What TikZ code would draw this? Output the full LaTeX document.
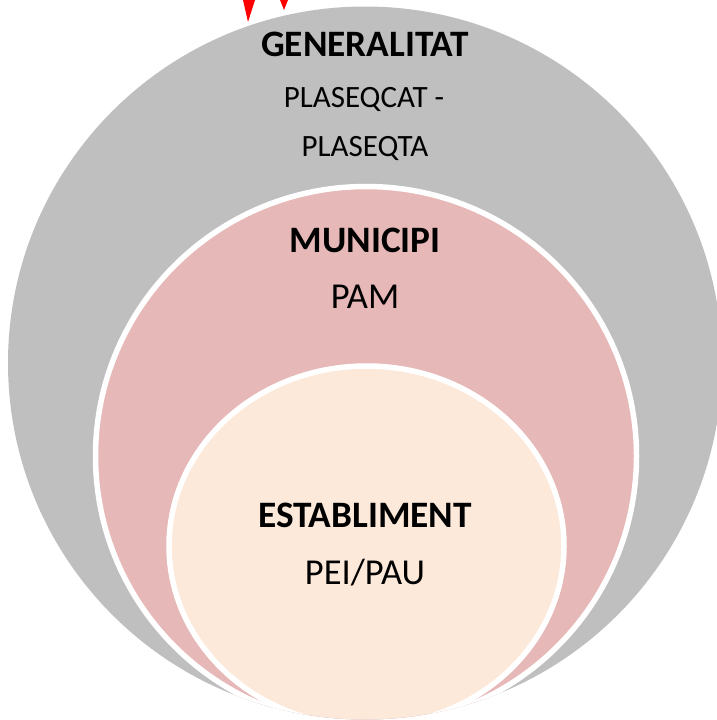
\documentclass[tikz,border=0pt]{standalone}
\usepackage{fontspec}
\setmainfont{Carlito}
\definecolor{greyc}{HTML}{BFBFBF}
\definecolor{pinkc}{HTML}{E6B8B7}
\definecolor{creamc}{HTML}{FDE9D9}
\tikzset{
  head/.style={font=\fontsize{37.3}{40}\selectfont\bfseries, text=black, inner sep=0pt, anchor=base},
  sub/.style={font=\fontsize{31}{34}\selectfont, text=black, inner sep=0pt, anchor=base},
  big/.style={font=\fontsize{36.5}{40}\selectfont, text=black, inner sep=0pt, anchor=base},
  ring/.style={draw=white, line width=5.5pt}
}
\begin{document}
\begin{tikzpicture}[x=1pt,y=-1pt]
\useasboundingbox (0,0) rectangle (717,720);
\fill[white] (0,0) rectangle (717,720);
\fill[red] (243,0) -- (255,0) -- (248,22) -- cycle;
\fill[red] (280,0) -- (288,0) -- (284,10) -- cycle;
\begin{scope}
  \clip (0,0) rectangle (717,720);
  \fill[greyc] (365,363) ellipse [x radius=357, y radius=356.5];
  \begin{scope}
    \clip (365,363) ellipse [x radius=357, y radius=356.5];
    \filldraw[ring, fill=pinkc] (366,456) ellipse [x radius=270.5, y radius=269.5];
    \filldraw[ring, fill=creamc] (366.5,546) ellipse [x radius=197.5, y radius=180];
  \end{scope}
\end{scope}
\node[head] (gen) at (365,56) {GENERALITAT};
\node[sub] (pla1) at (364,107) {PLASEQCAT -};
\node[sub] (pla2) at (365,156) {PLASEQTA};
\node[head] (mun) at (365,252) {MUNICIPI};
\node[big] (pam) at (365,308) {PAM};
\node[head] (est) at (365,527) {ESTABLIMENT};
\node[big] (pei) at (365,584) {PEI/PAU};
\end{tikzpicture}
\end{document}
